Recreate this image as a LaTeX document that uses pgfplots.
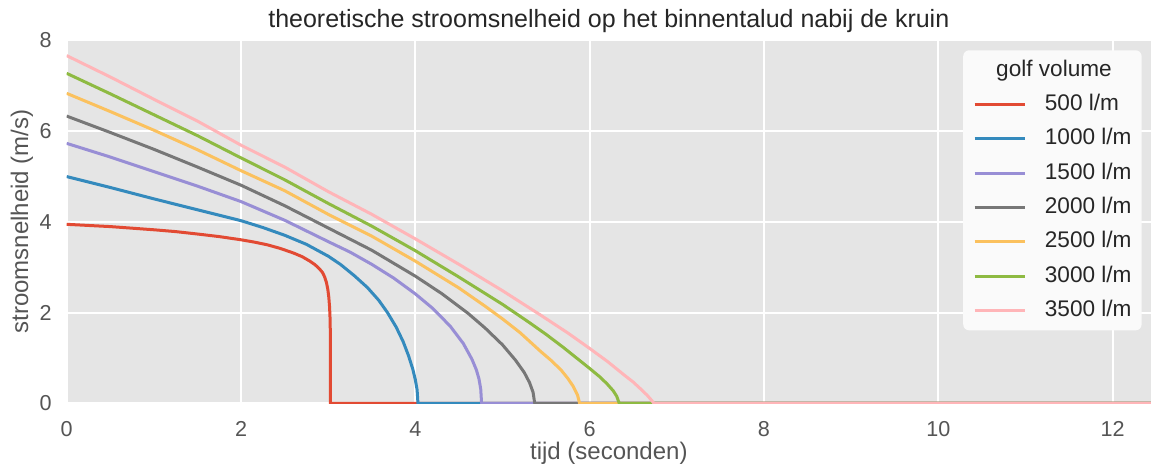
\documentclass[border=0pt]{standalone}
\usepackage{fontspec}
\setmainfont{Liberation Sans}
\usepackage{pgfplots}
\pgfplotsset{compat=1.18}
\definecolor{cRed}{HTML}{E24A33}
\definecolor{cBlue}{HTML}{348ABD}
\definecolor{cPurple}{HTML}{988ED5}
\definecolor{cGray}{HTML}{777777}
\definecolor{cYellow}{HTML}{FBC15E}
\definecolor{cGreen}{HTML}{8EBA42}
\definecolor{cPink}{HTML}{FFB5B8}
\definecolor{bgGray}{HTML}{E5E5E5}
\definecolor{tickGray}{HTML}{555555}
\definecolor{titleGray}{HTML}{262626}
\definecolor{legFill}{HTML}{FAFAFA}
\begin{document}
\begin{tikzpicture}
\begin{axis}[
  scale only axis, width=542.15pt, height=181.9pt,
  xmin=0, xmax=12.44, ymin=0, ymax=8,
  xtick={0,2,...,12}, ytick={0,2,...,8},
  major tick length=0pt,
  axis line style={draw=none},
  axis background/.style={fill=bgGray},
  grid=major, major grid style={white, line width=1pt},
  /pgf/number format/assume math mode=true,
  tick label style={font=\fontsize{10.8}{12}\selectfont, text=tickGray},
  xticklabel style={yshift=-5.5pt},
  yticklabel style={xshift=-4pt},
  title={theoretische stroomsnelheid op het binnentalud nabij de kruin},
  every axis title/.style={at={(axis description cs:0.5,1)}, anchor=base, yshift=5.85pt, inner sep=0pt, font=\fontsize{12.5}{14}\selectfont, text=titleGray},
  xlabel={tijd (seconden)},
  every axis x label/.style={at={(axis description cs:0.5,0)}, anchor=north, yshift=-19pt, inner sep=0pt, font=\fontsize{12}{14}\selectfont, text=tickGray},
  ylabel={stroomsnelheid (m/s)},
  every axis y label/.style={at={(axis description cs:-0.04122,0.5)}, rotate=90, anchor=center, inner sep=0pt, font=\fontsize{12}{14}\selectfont, text=tickGray},
  legend style={at={(rel axis cs:0.9917,0.972)}, anchor=north east, fill=legFill, draw=none, rounded corners=3pt,
    inner xsep=5pt, inner ysep=3pt, font=\fontsize{11.3}{13}\selectfont, text=titleGray, row sep=3.15pt,
    nodes={inner sep=0pt, text height=10pt, text depth=4pt},
    /tikz/every odd column/.append style={column sep=9.35pt}},
  legend cell align=left,
  legend image code/.code={\draw[#1, line width=1.5pt, rounded corners=0pt] (0pt,0pt) -- (25pt,0pt);},
  every axis plot/.append style={line width=1.5pt, line join=round},
]
\addlegendimage{empty legend}
\addlegendentry{\hspace*{-24.35pt}golf volume}
\addplot[cRed] coordinates {(0,3.94) (0.5,3.89) (1,3.82) (1.25,3.78) (1.53,3.72) (1.75,3.67) (2,3.60) (2.15,3.55) (2.3,3.49) (2.45,3.41) (2.6,3.31) (2.7,3.23) (2.79,3.13) (2.85,3.05) (2.9,2.96) (2.935,2.88) (2.96,2.78) (2.98,2.66) (2.995,2.52) (3.007,2.34) (3.016,2.12) (3.022,1.85) (3.025,1.5) (3.025,0) (12.5,0)};
\addlegendentry{500 l/m}
\addplot[cBlue] coordinates {(0,4.99) (0.5,4.75) (1,4.50) (1.5,4.26) (2,4.02) (2.25,3.87) (2.5,3.70) (2.75,3.50) (3.0,3.24) (3.14,3.06) (3.3,2.81) (3.45,2.55) (3.58,2.27) (3.68,2.0) (3.78,1.68) (3.86,1.36) (3.92,1.06) (3.97,0.76) (4.0,0.52) (4.02,0.30) (4.03,0) (12.5,0)};
\addlegendentry{1000 l/m}
\addplot[cPurple] coordinates {(0,5.72) (0.5,5.42) (1,5.10) (1.5,4.78) (2,4.44) (2.5,4.03) (3,3.56) (3.25,3.33) (3.5,3.06) (3.75,2.76) (4,2.41) (4.2,2.09) (4.4,1.70) (4.55,1.32) (4.65,0.97) (4.7,0.74) (4.73,0.54) (4.75,0.32) (4.76,0) (12.5,0)};
\addlegendentry{1500 l/m}
\addplot[cGray] coordinates {(0,6.32) (0.5,5.96) (1,5.59) (1.5,5.20) (2,4.80) (2.5,4.35) (3,3.86) (3.5,3.37) (4,2.80) (4.3,2.42) (4.6,1.99) (4.8,1.66) (5.0,1.29) (5.15,0.95) (5.25,0.68) (5.31,0.46) (5.35,0.25) (5.37,0) (12.5,0)};
\addlegendentry{2000 l/m}
\addplot[cYellow] coordinates {(0,6.82) (0.5,6.42) (1,6.01) (1.5,5.58) (2,5.12) (2.5,4.68) (3,4.16) (3.5,3.68) (4,3.13) (4.5,2.54) (4.8,2.14) (5,1.86) (5.2,1.56) (5.44,1.14) (5.55,0.96) (5.67,0.74) (5.75,0.55) (5.81,0.38) (5.86,0.19) (5.885,0) (12.5,0)};
\addlegendentry{2500 l/m}
\addplot[cGreen] coordinates {(0,7.26) (0.5,6.81) (1,6.35) (1.5,5.89) (2,5.40) (2.5,4.92) (3,4.40) (3.5,3.90) (4,3.36) (4.5,2.78) (5,2.18) (5.3,1.79) (5.5,1.52) (5.7,1.23) (5.85,1.00) (6.0,0.77) (6.12,0.58) (6.2,0.43) (6.27,0.28) (6.31,0.16) (6.34,0) (12.5,0)};
\addlegendentry{3000 l/m}
\addplot[cPink] coordinates {(0,7.65) (0.5,7.18) (1,6.69) (1.5,6.21) (2,5.68) (2.5,5.20) (3,4.66) (3.5,4.16) (4,3.62) (4.5,3.06) (5,2.48) (5.44,1.94) (5.75,1.55) (6,1.21) (6.2,0.93) (6.4,0.62) (6.5,0.47) (6.59,0.31) (6.66,0.18) (6.71,0.07) (6.74,0) (12.5,0)};
\addlegendentry{3500 l/m}
\coordinate (sw) at (rel axis cs:0,0);
\coordinate (ne) at (rel axis cs:1,1);
\end{axis}
\pgfresetboundingbox
\path ([shift={(-33.35pt,-32.25pt)}]sw) rectangle ([shift={(0pt,19.85pt)}]ne);
\end{tikzpicture}
\end{document}
